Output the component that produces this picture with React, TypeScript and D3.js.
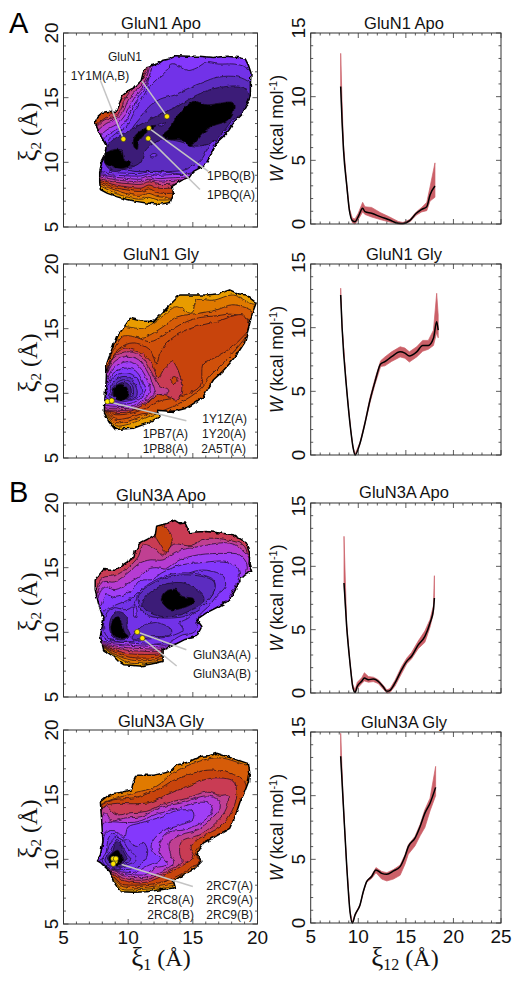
import React from "react";
import * as d3 from "d3";

type Pt = [number, number];
type Ring = [number, Pt[]];

const levelColors = ["#000000","#3c1c78","#5c2cc0","#7232e8","#8438fc","#a03ef6","#b63cd2","#c04092","#c93c54","#c8440c","#d65c08","#e07a00","#e89c00","#d0500a"];
const ringLevels = { black:0, dark:1, deep:2, mid:3, violet:4, bright:5, magenta:6, rose:7, red:8, rust:9, orange:10, amber:11, gold:12, ember:13 };
const { black, dark, deep, mid, violet, bright, magenta, rose, red, rust, orange, amber, gold, ember } = ringLevels;

// ---------- GluN1 Apo ----------
const apo1Outline: Pt[] = [[7.45,13.0],[7.6,13.5],[8.0,13.85],[8.5,13.95],[9.0,13.85],[9.3,14.5],[9.6,15.2],[10.1,15.6],[10.5,15.8],[11.0,16.3],[11.15,16.9],[11.4,17.4],[11.9,17.5],[12.3,17.6],[12.7,17.9],[13.2,18.0],[13.75,18.25],[14.6,18.2],[15.5,18.2],[16.6,18.1],[17.6,18.2],[18.5,18.1],[19.05,18.0],[19.3,17.5],[19.5,16.9],[19.45,16.0],[19.45,15.1],[19.1,14.3],[18.8,13.7],[18.1,13.0],[17.8,12.5],[17.35,12.0],[16.8,11.5],[16.6,11.0],[16.3,10.4],[16.05,9.95],[15.6,9.6],[15.05,9.3],[14.7,8.8],[14.3,8.7],[13.8,8.4],[13.4,8.15],[13.5,7.6],[13.25,6.9],[12.4,6.75],[11.4,6.85],[10.5,7.0],[9.6,7.2],[9.1,7.35],[8.4,7.6],[7.85,7.9],[7.8,8.5],[7.8,9.3],[7.95,10],[8.2,10.5],[8.3,11.3],[7.9,12.0]];
const apo1Rings: Ring[] = [
  [amber,[[7,8.6],[8,8.1],[9,7.6],[10,7.3],[11,7.15],[11.6,7.3],[12.3,7.1],[13.3,7.1],[15,7.2],[21,8],[21,21],[5,21],[5,10]]],
  [orange,[[7,8.7],[8,8.25],[9,7.85],[10,7.55],[11,7.45],[11.6,7.6],[12.3,7.35],[13.3,7.3],[15,7.4],[21,8],[21,21],[5,21],[5,10]]],
  [rust,[[7,8.8],[8,8.4],[9,8.05],[10,7.85],[11,7.75],[11.6,7.95],[12.3,7.65],[13.3,7.6],[15,7.7],[21,8],[21,21],[5,21],[5,10]]],
  [red,[[7,8.9],[8,8.55],[9,8.25],[10,8.1],[11,8.0],[11.6,8.25],[12.3,8.0],[13.3,8.0],[15,8.1],[21,9],[21,21],[11.1,21],[11.3,17.6],[11.0,16.8],[10.6,16.2],[10.0,15.8],[9.5,15.1],[9.1,14.0],[8.5,13.6],[7.9,13.2],[7.3,12.6],[6,10]]],
  [rose,[[7,9],[8,8.7],[9,8.45],[10,8.35],[11,8.3],[11.6,8.5],[12.3,8.3],[13.3,8.3],[15,8.4],[21,9],[21,21],[11.6,21],[11.5,17.6],[11.4,17.0],[11.0,16.3],[10.4,15.7],[9.8,15.0],[9.4,14.0],[9.0,13.5],[8.2,13.3],[7.6,12.8],[7.0,12.3],[6.5,10]]],
  [magenta,[[7,9.1],[8,8.85],[9,8.65],[10,8.55],[11,8.5],[11.6,8.7],[12.3,8.55],[13.3,8.6],[15,8.7],[21,9],[21,21],[11.8,21],[11.7,17.8],[11.5,16.8],[11.1,16.0],[10.5,15.45],[10.0,14.8],[9.6,13.9],[9.0,13.3],[8.3,13.0],[7.7,12.5],[7.2,12.0],[6.8,10]]],
  [bright,[[7,9.2],[8,9.0],[9,8.85],[10,8.75],[11,8.7],[11.6,8.9],[12.3,8.75],[13.3,8.8],[15,8.9],[21,9.5],[21,21],[12,21],[11.9,18],[11.7,16.8],[11.3,16.0],[10.7,15.3],[10.2,14.5],[9.8,13.7],[9.2,13.0],[8.5,12.6],[8.0,12.2],[7.6,11.5],[7,10]]],
  [violet,[[7.2,9.3],[8,9.1],[9,9.0],[10,8.95],[11,8.95],[11.6,9.1],[12.3,9.0],[13.3,9.05],[15,9.1],[21,9.5],[21,21],[12.3,21],[12.2,18.2],[11.8,17.2],[11.4,15.9],[10.9,15.2],[10.4,14.3],[10.0,13.5],[9.4,12.7],[8.7,12.3],[8.1,11.8],[7.7,11],[7.2,10]]],
  [mid,[[7.4,9.4],[8,9.25],[9,9.2],[10,9.15],[11,9.15],[11.6,9.3],[12.3,9.25],[13.3,9.2],[14,9.1],[15,9.2],[16.2,9.7],[21,10],[21,17],[19.6,17.0],[19.0,17.4],[18.2,17.6],[17.0,17.6],[16.0,17.7],[15.3,17.3],[14.6,17.1],[13.9,17.5],[13.3,17.6],[12.8,16.9],[12.2,16.4],[11.6,15.8],[11.1,15.0],[10.6,14.2],[10.2,13.3],[9.7,12.6],[9.0,12.2],[8.4,11.6],[8.2,10.9],[8.0,10.3]]],
  [deep,[[20,15.8],[19.4,16.2],[18.5,16.6],[17.0,16.6],[15.8,16.2],[14.6,15.7],[13.6,15.2],[12.5,14.9],[11.6,14.3],[11,13.5],[10.5,12.9],[10,12.2],[9.3,11.8],[8.7,11.3],[8.5,10.5],[8.5,9.9],[9.5,9.5],[10.5,9.3],[12,9.3],[13.5,9.3],[14.5,9.45],[15.3,9.9],[15.8,10.4],[16.2,11.2],[17,12],[17.8,12.7],[18.6,13.7],[19.4,14.5],[20,15]]],
  [dark,[[8.2,11.0],[8.85,11.75],[10,12.4],[10.9,12.9],[12.45,13.7],[13.75,14.3],[15.3,15.2],[16.85,15.75],[18.9,15.8],[19.4,15.1],[19.3,14.05],[18.1,13.3],[16.85,11.75],[15.3,11.25],[14,11.6],[12.7,11.75],[11.4,11],[10.9,9.95],[9.9,9.55],[8.85,9.3],[8.2,9.95]]],
  [mid,[[11.7,10.5],[12,10.7],[12.3,10.5],[12,10.4]]],
  [deep,[[12.3,12.9],[12.9,13.1],[12.6,12.8]]],
  [black,[[12.7,12.15],[13.25,12.65],[13.75,13.55],[15.05,14.7],[16.05,14.45],[18.1,14.6],[18.1,13.8],[17.6,13.2],[16.55,12.8],[15.8,12.3],[14.8,11.3],[14,11.75],[13.25,11.75],[12.7,11.95]]],
  [black,[[8.3,10.7],[9,11],[9.5,10.9],[9.7,10.2],[10.3,9.95],[9.65,9.55],[8.6,9.7],[8.2,9.95]]],
  [black,[[10.45,11.2],[10.5,12],[11.45,12.7],[12.2,12.85],[11.55,12.4],[10.85,11.75],[10.7,11]]],
];

// ---------- GluN1 Gly ----------
const gly1Outline: Pt[] = [[9,7.2],[10.4,7.3],[11.5,7.7],[12.45,8.2],[12.2,8.7],[13.5,8.6],[14.5,8.85],[15.2,9.3],[15.8,9.75],[16.2,10.4],[16.6,11.05],[17.2,11.6],[17.85,12.3],[18.4,13],[19,13.9],[19.3,15],[19.6,16.2],[19.9,17],[19.5,17.3],[19.15,17.6],[18.5,17.7],[17.85,18],[17,17.7],[16.05,17.6],[15,17.6],[14,17.6],[13.3,16.9],[12.7,16.3],[11.95,15.55],[11,15.6],[10.15,15.8],[9.6,15],[9.1,14.4],[8.7,13.3],[8.35,12.3],[8.3,11],[8.2,9.5],[8.15,8.5],[8.5,7.8]];
const gly1Rings: Ring[] = [
  [amber,[[7,8.6],[8.2,8.4],[9,7.5],[10,7.6],[11,7.95],[12.2,8.4],[14,8.5],[21,9],[21,17.3],[19.7,16.9],[18.15,17.6],[16.6,17.2],[15.3,17.2],[14.9,16.2],[13.75,16.7],[12.45,15.8],[11.2,15.05],[9.9,15.15],[8,15.5],[6,12]]],
  [orange,[[7,8.7],[8.2,8.5],[9,7.75],[10,7.85],[11,8.2],[12.2,8.6],[14,8.7],[15,9.2],[16,9.9],[16.8,11],[18,12.2],[19.2,13.8],[21,14],[21,16],[19.95,15.9],[19.7,16.3],[18.1,16.85],[16.85,16.45],[15.55,16.2],[13.75,15.9],[12.7,15.15],[11.4,14.4],[9.35,14.15],[8.5,14],[6,12]]],
  [ember,[[7,8.8],[8.2,8.6],[9,8.0],[10,8.1],[11,8.4],[12.45,8.6],[14,9.25],[15.55,10.3],[16.3,11.3],[17.6,12.6],[18.9,14.1],[19.7,15.4],[19.9,15.4],[18.2,16.1],[16.85,16],[15.3,15.8],[14,15.3],[12.7,14.45],[11.7,14],[10.4,14.4],[9.6,14.4],[9,13.6],[8.4,12.4],[8,11.6],[7,10]]],
  [rust,[[7.5,9],[8.35,8.6],[9,8.35],[10.4,8.5],[11.7,9],[12.45,9.4],[14,9.75],[15.55,10.55],[15.8,12.2],[16.6,12.7],[17.6,13.25],[18.65,14.15],[19.35,15.1],[18.9,16.05],[16.85,15.55],[14.8,15],[13.25,14.15],[12.45,13.1],[12.2,12.2],[11.7,13.35],[10.4,13.9],[9.35,13.5],[8.7,12.6],[8.35,11.55],[7.6,10.5]]],
  [red,[[7.8,8.9],[9,8.55],[10.15,8.6],[11.45,9.3],[12.45,9.9],[13.85,9.5],[14.15,10.4],[13.85,11.8],[13.4,12.45],[12.85,12],[12.3,11.2],[11.85,12.3],[11.15,13.05],[10.4,13.35],[9.75,13.5],[8.83,12.8],[8.3,11.5],[7.8,10]]],
  [rust,[[13.25,11],[13.55,11.3],[13.85,11.05],[13.55,10.75]]],
  [rose,[[8.35,11.55],[8.85,12.7],[9.75,13.2],[10.9,12.95],[11.8,11.65],[12.35,10.65],[13.1,10.3],[13.1,10.0],[12.2,9.85],[11.45,9.3],[10.4,8.75],[9,8.7],[8,8.8],[7.8,10]]],
  [magenta,[[8.3,11.3],[8.85,12.35],[9.75,12.85],[10.8,12.6],[11.55,11.55],[12,10.4],[12.1,10.05],[11.45,9.5],[10.4,8.9],[9,8.85],[8.1,8.95],[7.8,10]]],
  [bright,[[8.3,10.9],[8.85,11.95],[9.9,12.45],[10.7,12.2],[11.3,11.4],[11.7,10.4],[11.45,9.75],[10.4,9.05],[9,9],[8.15,9.15],[7.8,10]]],
  [violet,[[8.25,10.55],[8.85,11.55],[9.75,11.95],[10.55,11.75],[11.05,11.05],[11.35,10.3],[11.05,9.7],[10.3,9.25],[9,9.2],[8.2,9.35],[7.9,10]]],
  [mid,[[8.3,10.25],[8.85,11.25],[9.7,11.6],[10.4,11.4],[10.85,10.8],[11.05,10.15],[10.7,9.65],[10,9.4],[9,9.35],[8.3,9.6]]],
  [deep,[[8.55,10.0],[9,11],[9.6,11.3],[10.25,11.15],[10.6,10.5],[10.7,10],[10.4,9.6],[9.75,9.5],[9,9.5],[8.5,9.75]]],
  [deep,[[8.75,10.05],[9.1,10.8],[9.7,11.05],[10.2,10.85],[10.4,10.3],[10.35,9.8],[9.85,9.6],[9.1,9.65],[8.75,9.9]]],
  [dark,[[8.8,10.05],[9.15,10.65],[9.7,10.85],[10.1,10.6],[10.25,10.1],[10.05,9.7],[9.5,9.5],[8.95,9.7]]],
  [black,[[8.85,10.05],[9,10.5],[9.4,10.7],[9.85,10.5],[10,10.05],[9.85,9.6],[9.4,9.45],[9,9.6]]],
];

// ---------- GluN3A Apo ----------
const apo3Outline: Pt[] = [[7.45,14.05],[7.8,14.5],[8.1,14.85],[8.6,14.8],[9,14.8],[9.7,15.3],[10.4,15.75],[10.6,16.4],[10.9,16.9],[11.5,17.2],[12.1,17.55],[12.2,18.2],[12.9,18.4],[13.6,18.65],[14.0,18.4],[14.4,18.45],[14.75,17.7],[15.3,17.75],[16.05,17.8],[17,17.7],[18.1,17.55],[18.7,17.2],[19.15,16.9],[19.4,16],[19.35,15.3],[19.55,14.7],[19,14.4],[18.65,14.05],[18.3,13.3],[17.85,12.5],[17,12],[16.05,11.5],[15.3,11],[15.7,10.45],[15.3,9.7],[14.4,9.45],[13.5,9],[12.7,8.65],[12.7,7.75],[11.8,7.55],[10.9,7.4],[9.65,7.5],[9.2,7.8],[8.85,8.15],[8.1,8.65],[7.85,9.7],[8.1,11],[7.7,12.25],[7.45,13.3]];
const apo3Rings: Ring[] = [
  [amber,[[7,9],[8.1,8.8],[9,8.2],[10,7.65],[11,7.6],[12,7.7],[12.8,7.8],[14,8],[21,9],[21,21],[5,21],[5,12]]],
  [orange,[[7,9],[8.1,8.85],[9,8.3],[10,7.9],[11,7.8],[12,7.85],[12.8,8],[14,8.2],[21,9],[21,21],[5,21],[5,12]]],
  [rust,[[7,9],[8.1,8.9],[9,8.45],[10,8.1],[11,8],[12,8.05],[12.8,8.2],[14,8.4],[21,9],[21,21],[5,21],[5,12]]],
  [red,[[7,9],[8.1,8.95],[9,8.6],[10,8.35],[11,8.3],[12,8.3],[12.8,8.4],[14,8.6],[21,9],[21,21],[13,21],[12.7,18.5],[13.1,17.9],[13.4,17.1],[12.95,16.2],[12.4,16.9],[12.1,17.5],[11.9,19],[5,21],[5,12]]],
  [rose,[[7.2,9.1],[8.1,9],[9,8.8],[10,8.6],[11,8.55],[12,8.5],[12.8,8.55],[14,8.7],[15,9],[21,9.5],[21,14],[19.6,14.5],[19.3,15.6],[19,16.65],[18.1,17.05],[16.05,17.25],[14.8,16.7],[13.5,16.8],[12.7,15.9],[12.2,16.4],[11.2,16.75],[10.75,15.8],[10.1,15.1],[9,14.4],[8,14.2],[7.5,13.2],[7,11]]],
  [magenta,[[7.4,9.2],[8.1,9.1],[9,8.95],[10,8.8],[11,8.75],[12,8.7],[12.8,8.7],[14,8.85],[15,9.2],[21,9.5],[21,14],[19.55,14.6],[19.4,15.6],[19,16.25],[17.85,16.9],[15.55,16.65],[13.75,16.25],[12.7,15.6],[11.7,15.6],[10.9,15.35],[10.1,14.7],[8.95,13.9],[8.1,13.9],[7.6,13],[7.2,11]]],
  [bright,[[7.5,9.3],[8.1,9.2],[9,9.1],[10,9],[11,8.95],[12,8.9],[12.8,8.85],[14,9],[15,9.3],[16,10],[16,11.3],[18,12.4],[18.3,13.4],[19,14.3],[19.2,15.2],[18.6,16],[17.5,16.1],[15.5,16],[14,15.6],[12.9,14.9],[12.2,15],[11.6,14.9],[11,14.4],[10,13.8],[9,13.3],[8.2,13.5],[7.7,12.8],[7.4,11]]],
  [violet,[[7.6,9.4],[8.1,9.3],[9,9.25],[10,9.2],[11,9.15],[12,9.1],[12.8,9],[14,9.2],[15,9.5],[15.7,10.3],[15.5,11],[16.3,11.5],[17.6,12.5],[18.3,13.6],[18.6,14.6],[18.2,15.2],[17.4,15.5],[15.8,15.4],[14.1,15.2],[12.6,14.6],[11.9,14.1],[11,14],[10.2,13.2],[9,12.7],[8.3,12.9],[8,12.4],[7.6,11]]],
  [mid,[[8.1,11.6],[9,12.1],[10.2,12.6],[10.9,13.2],[11.8,13.5],[12.9,13.6],[14.3,14.4],[15.5,14.8],[16.6,14.7],[17.4,14.3],[17.5,13.5],[16.9,12.9],[16.3,12.1],[15.5,11.3],[15.3,10.8],[15.4,10.4],[15,9.95],[14.2,9.8],[13,9.2],[11,9.1],[9.5,9.3],[8.5,9.4],[7.95,9.8],[8,10.8]]],
  [mid,[[10.8,13.05],[12.45,14.2],[14.4,14.6],[16.6,14.05],[16.6,13.05],[15.55,11.9],[14.65,11.1],[14,10.7],[14.25,10.2],[13.25,9.7],[11.2,9.45],[9.4,9.25],[8.35,9.7],[8.1,10.45],[8.35,11.5],[8.85,11.9],[9.9,11.75],[10.55,12.25]]],
  [violet,[[10.4,11.6],[10.5,12.1],[10.65,11.8],[10.65,11.2],[10.45,11.2]]],
  [deep,[[10.8,12.8],[12.2,13.95],[14.4,14.45],[16.6,13.95],[16.6,13.05],[15.05,11.5],[13,11.1],[11.2,11.5]]],
  [dark,[[11.05,12.25],[12.45,13.55],[14.4,13.8],[15.8,12.8],[15.8,12.3],[14.75,11.65],[13.25,11.2],[11.7,11.5]]],
  [dark,[[8.75,11.25],[9.25,11.6],[9.9,11.25],[9.9,10.45],[10.15,9.7],[9.4,9.4],[8.75,9.8],[8.55,10.45]]],
  [deep,[[11.05,10.45],[12.2,10.75],[13.35,10.2],[13.25,9.8],[11.7,9.65],[10.3,9.5]]],
  [black,[[12.55,12.5],[12.85,13.15],[13.75,13.3],[14.15,12.8],[15.05,12.6],[15.05,12.3],[14.3,11.9],[13.25,11.75],[12.75,12.15]]],
  [black,[[8.65,10.35],[8.85,11],[9.25,11.2],[9.5,10.7],[9.75,9.95],[10,9.7],[9.5,9.5],[9,9.7]]],
];

// ---------- GluN3A Gly ----------
const gly3Outline: Pt[] = [[7.6,9.9],[7.85,10.35],[8.05,11.4],[7.95,13],[7.85,14.45],[8.4,14.9],[8.85,15.1],[9.6,15.2],[10.25,15.35],[10.4,16],[10.65,16.5],[12,16.5],[13.25,16.8],[13.75,17.3],[14.6,17.5],[15.55,17.95],[16.2,18],[16.85,18.2],[18.1,17.8],[19.3,17.4],[19.4,16.7],[19.3,16],[19,15.2],[18.65,14.45],[18.3,13.4],[17.85,12.4],[16.8,11.8],[15.8,11.25],[15.3,10.35],[15.7,9.85],[15.05,9.2],[14.2,8.8],[13.5,8.3],[13.65,7.8],[12.5,7.65],[11.45,7.5],[10.4,7.45],[9.4,7.5],[8.85,8.3],[8.6,9.05],[7.85,9.75]];
const gly3Rings: Ring[] = [
  [amber,[[7.5,9],[8.7,8.6],[9.5,7.7],[10.5,7.65],[11.5,7.7],[12.5,7.8],[13.6,8],[15,8.4],[21,9],[21,21],[5,21],[5,12]]],
  [orange,[[7.5,9],[8.7,8.7],[9.5,7.95],[10.5,7.8],[11.5,7.85],[12.5,8],[13.6,8.2],[15,8.6],[21,9],[21,17],[19.3,17.25],[17.1,17.85],[15.55,17.6],[13.5,16.7],[12.2,15.65],[10.4,15.1],[7.85,14.2],[6,12]]],
  [rust,[[7.5,9],[8.8,8.7],[9.5,8.1],[10.5,8],[11.5,8.05],[12.5,8.2],[13.5,8.55],[14.8,9.3],[15.55,9.85],[15.2,10.35],[15.55,11],[16.6,11.75],[18.15,12.65],[18.65,14.2],[19.15,15.35],[18.9,16.15],[17.85,16.65],[16.6,16.9],[15.55,16.8],[13.5,16.1],[12.2,15.35],[10.4,14.75],[8.85,14.6],[7.85,14.1],[6.5,12]]],
  [red,[[7.5,9.2],[8.9,8.8],[9.5,8.4],[10.5,8.2],[11.5,8.25],[13,8.9],[14.5,9.7],[15.05,10.2],[14.8,11],[15.8,11.8],[17.1,12.5],[17.9,13.5],[18.4,15],[18.1,16.05],[16.85,16.3],[16.05,16.2],[14.5,15.6],[13,15],[11.7,14.4],[10.4,14.3],[8.8,14.3],[8,14],[7,12]]],
  [rose,[[7.5,9.4],[9,8.9],[9.5,8.6],[10.5,8.4],[11.5,8.45],[13.2,9.2],[14.25,9.85],[14,10.35],[14.15,11.4],[15.55,11.9],[16.85,12.9],[17.6,13.95],[17.7,14.95],[17.1,14.95],[16.05,15.2],[14.5,14.7],[12.95,14.35],[11.4,13.7],[10.1,13.6],[9.05,13.45],[8.2,14.1],[7.5,12]]],
  [magenta,[[7.5,9.6],[9.05,9.05],[9.5,8.8],[10.5,8.6],[11.5,8.65],[13,9.3],[13.6,9.8],[13.35,10.2],[13.2,11.3],[14.1,11.9],[15.4,12.3],[16.4,13.1],[17.1,14],[17,14.6],[16,14.9],[14.3,14.4],[12.5,14],[11,13.3],[9.8,13.2],[8.7,13],[8.2,13.6],[7.7,12]]],
  [bright,[[7.5,9.8],[9.1,9.1],[9.5,8.95],[10.5,8.8],[11.5,8.85],[12,9.3],[13,9.6],[12.6,10.2],[12.4,11],[12.9,12],[14.4,12.3],[15.6,12.8],[16.5,13.7],[16.3,14.3],[15.4,14.4],[14,14],[12.2,13.5],[10.7,12.9],[9.7,12.85],[8.9,12.9],[8.1,12.8],[7.8,11]]],
  [violet,[[7.6,9.9],[9.15,9.15],[9.5,9.05],[10.5,9],[11.5,9.5],[12.5,10],[11.8,10.7],[11.9,11.4],[12.7,12.2],[13.9,12.6],[15,13.1],[15,13.7],[13.9,13.8],[12.3,13.2],[10.9,12.8],[10,12.5],[9.7,11.7],[9,12.2],[8.3,12.1],[8,11]]],
  [mid,[[8.2,10.2],[8.5,11.7],[8.9,12],[9.5,11.5],[10,11.5],[10.6,11],[11.2,11.3],[11.5,10.4],[10.7,9.4],[9.5,9.2],[8.4,9.4],[7.8,9.9]]],
  [mid,[[8,9.9],[8.4,10.7],[8.7,11.4],[9.1,11.7],[9.6,11.4],[10,10.8],[10.6,10.2],[10.6,9.9],[10,9.6],[9.3,9.35],[8.6,9.3]]],
  [deep,[[8.2,9.95],[8.6,10.6],[8.9,11.2],[9.2,11.5],[9.5,11.1],[9.9,10.4],[10.2,10],[9.9,9.7],[9.3,9.45],[8.7,9.4]]],
  [dark,[[8.4,10.1],[8.8,10.6],[9,11.2],[9.3,11.3],[9.6,10.7],[9.85,10.1],[9.6,9.7],[9.1,9.55],[8.75,9.65]]],
  [black,[[8.5,10.05],[8.75,10.45],[9.2,10.7],[9.45,10.3],[9.65,10],[9.5,9.75],[9.1,9.55],[8.8,9.65]]],
];

// ---------- markers / callouts (in Å) ----------
const apo1Markers: Pt[] = [[9.63,11.8],[13,13.55],[11.6,12.65],[11.55,11.85]];
const apo1Leaders: [Pt,Pt][] = [[[7.85,16.35],[9.63,11.8]],[[11.05,16.3],[13,13.55]],[[11.6,12.65],[16.2,9.3]],[[11.55,11.85],[15.55,7.9]]];
const gly1Markers: Pt[] = [[8.4,9.37],[8.73,9.43]];
const gly1Leaders: [Pt,Pt][] = [[[8.85,9.25],[14.5,7.88]]];
const apo3Markers: Pt[] = [[10.7,10.03],[11.1,9.55]];
const apo3Leaders: [Pt,Pt][] = [[[10.7,10.03],[14.5,8.65]],[[11.1,9.55],[13.75,7.4]]];
const gly3Markers: Pt[] = [[8.85,10.05],[9,9.85],[8.85,9.65],[9.05,10.05]];
const gly3Leaders: [Pt,Pt][] = [[[9.5,9.6],[15,7.9]]];

type Lab = [string, number, number, "start"|"end"|"middle"];
const apo1Labels: Lab[] = [["GluN1",125,61,"middle"],["1Y1M(A,B)",100,80,"middle"],["1PBQ(B)",255,180,"end"],["1PBQ(A)",255,199,"end"]];
const gly1Labels: Lab[] = [["1Y1Z(A)",247,423,"end"],["1PB7(A)",188,438,"end"],["1Y20(A)",246,438,"end"],["1PB8(A)",188,453,"end"],["2A5T(A)",246,453,"end"]];
const apo3Labels: Lab[] = [["GluN3A(A)",251,659,"end"],["GluN3A(B)",251,678,"end"]];
const gly3Labels: Lab[] = [["2RC7(A)",253,890,"end"],["2RC8(A)",194,904,"end"],["2RC9(A)",253,904,"end"],["2RC8(B)",194,919,"end"],["2RC9(B)",253,919,"end"]];

// ---------- PMF curves ----------
const apo1X = [8.15,8.3,8.45,8.8,9.06,9.38,9.66,10,10.46,10.7,11.4,12.3,13.3,14.2,14.7,15.4,16.1,16.66,17.2,17.54,18.06];
const apo1W = [10.8,8.0,5.8,2.95,1.1,0.26,0.18,0.58,1.23,0.97,0.84,0.58,0.31,0.05,0.03,0.26,0.84,1.15,1.36,2.28,2.99];
const apo1Hi = [13.4,9.5,6.2,3.1,1.25,0.45,0.4,0.85,1.7,1.35,1.3,0.9,0.55,0.2,0.12,0.35,0.95,1.3,1.7,2.9,4.8];
const apo1Lo = [10.8,7.9,5.7,2.8,1.0,0.1,0,0.35,0.95,0.75,0.55,0.35,0.15,0,0,0.15,0.7,0.95,1.05,1.8,2.1];

const gly1X = [8.15,8.3,8.8,9.2,9.45,9.66,10.18,10.7,11.23,11.76,12.35,12.8,13.5,14.4,14.9,15.37,16.14,16.77,17.36,17.9,18.24,18.4];
const gly1W = [12.57,10,5,2,0.6,0,0.92,2.49,4.3,5.76,7.15,7.33,7.72,8.1,8,7.77,8.1,8.6,8.6,9.16,10.47,9.8];
const gly1Hi = [13.1,10.1,5.05,2.05,0.65,0.05,1,2.6,4.5,6,7.4,7.7,8.1,8.5,8.4,8.1,8.5,9,9,9.8,12.7,11];
const gly1Lo = [12.5,9.95,4.95,1.95,0.55,0,0.85,2.4,4.1,5.55,6.95,7,7.35,7.7,7.6,7.3,7.7,8.15,8.3,8.6,9.6,9.2];

const apo3X = [8.5,8.78,9.13,9.41,9.66,9.9,10.36,10.64,11.06,11.58,12.1,12.64,13,13.34,13.86,14.56,15.09,15.6,16.3,17,17.54,17.9,18];
const apo3W = [8.68,5.26,2.37,0.53,0.05,0.53,0.92,1.18,1.05,1.1,0.92,0.47,0.13,0.21,0.79,1.84,2.5,2.9,3.8,4.47,5.53,6.58,7.5];
const apo3Hi = [12.37,5.5,2.45,0.7,0.25,0.85,1.2,1.6,1.3,1.25,1.05,0.6,0.25,0.35,1,2.1,2.75,3.2,4.1,4.9,5.8,6.9,9.26];
const apo3Lo = [8.6,5.1,2.3,0.4,0,0.35,0.75,0.95,0.85,0.9,0.75,0.3,0,0.05,0.55,1.55,2.3,2.7,3.5,4,5.2,6.3,7.4];

const gly3X = [8.15,8.43,8.78,9.13,9.38,9.66,10.18,10.53,10.88,11.4,11.86,12.46,13,13.7,14.4,14.9,15.26,15.96,16.5,17,17.54,18.13];
const gly3W = [13.09,9.28,4.56,0.9,0,0.63,1.42,2.47,3.25,3.65,4.17,3.9,3.83,4.09,4.43,5.22,6,6.66,7.58,8.63,9.41,10.65];
const gly3Hi = [14.9,9.4,4.6,0.95,0.05,0.7,1.45,2.5,3.3,3.75,4.35,4.05,3.95,4.2,4.55,5.35,6.15,6.8,7.75,8.9,9.8,12.3];
const gly3Lo = [13,9.2,4.5,0.85,0,0.55,1.35,2.4,3.2,3.5,3.95,3.45,3.3,3.45,3.75,4.6,5.4,6.05,6.85,7.5,8.8,10];

const xiTicks = [5,10,15,20];
const wXTicks = [5,10,15,20,25];
const wYTicks = [0,5,10,15];
const FONT = "'Liberation Sans', Arial, sans-serif";
const SERIF = "'Liberation Serif', 'DejaVu Serif', serif";
const AXIS = "#333";

function Frame({x, y, xMajor, yMajor, xMinor, yMinor, showX, topShift = 0}: any) {
  const [x0, x1] = x.range();
  const [y0, y1] = y.range();
  const t: React.ReactNode[] = [];
  xMinor.forEach((v: number) => {
    const len = xMajor.includes(v) ? 5 : 2.5;
    t.push(<line key={"b"+v} x1={x(v)} x2={x(v)} y1={y0} y2={y0-len} />);
    t.push(<line key={"t"+v} x1={x(v)} x2={x(v)} y1={y1} y2={y1+len} />);
  });
  yMinor.forEach((v: number) => {
    const len = yMajor.includes(v) ? 5 : 2.5;
    t.push(<line key={"l"+v} x1={x0} x2={x0+len} y1={y(v)} y2={y(v)} />);
    t.push(<line key={"r"+v} x1={x1} x2={x1-len} y1={y(v)} y2={y(v)} />);
  });
  const yMax = yMajor[yMajor.length-1];
  return (
    <g>
      <g stroke={AXIS} strokeWidth={0.8}>{t}</g>
      <rect x={x0} y={y1} width={x1-x0} height={y0-y1} fill="none" stroke={AXIS} strokeWidth={1} />
      {yMajor.map((v: number) => (
        <text key={v} transform={`translate(${x0-5.5},${y(v)+(v===yMax?topShift:0)}) rotate(-90)`} textAnchor="middle" fontFamily={FONT} fontSize={19} fill="#111">{v}</text>
      ))}
      {showX && xMajor.map((v: number) => (
        <text key={v} x={x(v)} y={y0+19.5} textAnchor="middle" fontFamily={FONT} fontSize={19} fill="#111">{v}</text>
      ))}
    </g>
  );
}

function Landscape({id, top, title, titleY, outline, rings, markers, leaders, labels, showX}: any) {
  const x = d3.scaleLinear().domain([5,20]).range([63.5,257.5]);
  const y = d3.scaleLinear().domain([5,20]).range([top+194,top]);
  const smooth = d3.line<Pt>().x(d=>x(d[0])).y(d=>y(d[1])).curve(d3.curveCatmullRomClosed.alpha(0.5));
  const raw = d3.line<Pt>().x(d=>x(d[0])).y(d=>y(d[1])).curve(d3.curveLinearClosed);
  return (
    <g>
      <text x={161} y={titleY} textAnchor="middle" fontFamily={FONT} fontSize={16.5} fill="#111">{title}</text>
      <clipPath id={id}><path d={raw(outline) as string} /></clipPath>
      <g filter="url(#rough)">
        <path d={raw(outline) as string} fill={levelColors[gold]} />
        <g clipPath={`url(#${id})`}>
          {rings.map((r: Ring, i: number) => (
            <path key={i} d={smooth(r[1]) as string} fill={levelColors[r[0]]} stroke="#140a1c" strokeWidth={0.7} />
          ))}
        </g>
        <path d={raw(outline) as string} fill="none" stroke="#000" strokeWidth={1.5} strokeLinejoin="round" />
      </g>
      <Frame x={x} y={y} xMajor={xiTicks} yMajor={xiTicks} xMinor={d3.range(5,21)} yMinor={d3.range(5,21)} showX={showX} />
      {leaders.map((l: [Pt,Pt], i: number) => (
        <line key={i} x1={x(l[0][0])} y1={y(l[0][1])} x2={x(l[1][0])} y2={y(l[1][1])} stroke="#c4c4c4" strokeWidth={1.5} />
      ))}
      {markers.map((m: Pt, i: number) => (
        <circle key={i} cx={x(m[0])} cy={y(m[1])} r={2.6} fill="#ffe600" stroke="#222" strokeWidth={0.6} />
      ))}
      {labels.map((l: Lab, i: number) => (
        <text key={i} x={l[1]} y={l[2]} textAnchor={l[3]} fontFamily={FONT} fontSize={12} fill="#1a1a1a">{l[0]}</text>
      ))}
      <text transform={`translate(37,${top+99}) rotate(-90)`} textAnchor="middle" fontFamily={SERIF} fontSize={24} fill="#111">
        <tspan fontSize={27}>ξ</tspan><tspan fontSize={15} dy={4}>2</tspan><tspan dy={-4}> (Å)</tspan>
      </text>
    </g>
  );
}

function Pmf({top, bottom, title, titleY, xs, w, hi, lo, showX, topShift}: any) {
  const x = d3.scaleLinear().domain([5,25]).range([310.7,501]);
  const y = d3.scaleLinear().domain([0,15]).range([bottom,top]);
  const idx = d3.range(xs.length);
  const band = d3.area<number>().x(i=>x(xs[i])).y0(i=>y(lo[i])).y1(i=>y(hi[i]));
  const line = d3.line<number>().x(i=>x(xs[i])).y(i=>y(w[i])).curve(d3.curveMonotoneX);
  return (
    <g>
      <text x={404} y={titleY} textAnchor="middle" fontFamily={FONT} fontSize={16.5} fill="#111">{title}</text>
      <path d={band(idx) as string} fill="#cb6068" stroke="#cb6068" strokeWidth={0.7} />
      <path d={line(idx) as string} fill="none" stroke="#000" strokeWidth={1.5} />
      <Frame x={x} y={y} xMajor={wXTicks} yMajor={wYTicks} xMinor={d3.range(5,26)} yMinor={d3.range(0,16)} showX={showX} topShift={topShift} />
      <text transform={`translate(283,${(top+bottom)/2}) rotate(-90)`} textAnchor="middle" fontFamily={FONT} fontSize={17.5} fill="#111">
        <tspan fontStyle="italic">W</tspan> (kcal mol<tspan fontSize={11} dy={-6}>-1</tspan><tspan dy={6}>)</tspan>
      </text>
    </g>
  );
}

export default function App() {
  return (
    <svg width={524} height={982} viewBox="0 0 524 982" style={{position:"absolute",left:0,top:0,background:"#fff"}}>
      <defs>
        <filter id="rough" x="40" y="0" width="240" height="982" filterUnits="userSpaceOnUse" colorInterpolationFilters="sRGB">
          <feTurbulence type="fractalNoise" baseFrequency="0.2" numOctaves="2" seed="5" result="n" />
          <feDisplacementMap in="SourceGraphic" in2="n" scale="3.5" xChannelSelector="R" yChannelSelector="G" result="d" />
          <feGaussianBlur in="d" stdDeviation="0.25" />
        </filter>
      </defs>
      <text x={9} y={33} fontFamily={FONT} fontSize={29} fill="#000">A</text>
      <text x={9} y={502} fontFamily={FONT} fontSize={29} fill="#000">B</text>

      <Landscape id="p1" top={33} title="GluN1 Apo" titleY={29} outline={apo1Outline} rings={apo1Rings} markers={apo1Markers} leaders={apo1Leaders} labels={apo1Labels} />
      <Landscape id="p2" top={264} title="GluN1 Gly" titleY={260} outline={gly1Outline} rings={gly1Rings} markers={gly1Markers} leaders={gly1Leaders} labels={gly1Labels} />
      <Landscape id="p3" top={503} title="GluN3A Apo" titleY={501} outline={apo3Outline} rings={apo3Rings} markers={apo3Markers} leaders={apo3Leaders} labels={apo3Labels} />
      <Landscape id="p4" top={730} title="GluN3A Gly" titleY={727} outline={gly3Outline} rings={gly3Rings} markers={gly3Markers} leaders={gly3Leaders} labels={gly3Labels} showX />

      <Pmf top={33} bottom={224} title="GluN1 Apo" titleY={29} xs={apo1X} w={apo1W} hi={apo1Hi} lo={apo1Lo} topShift={-5} />
      <Pmf top={264} bottom={455} title="GluN1 Gly" titleY={260} xs={gly1X} w={gly1W} hi={gly1Hi} lo={gly1Lo} topShift={-1.5} />
      <Pmf top={503} bottom={693} title="GluN3A Apo" titleY={498} xs={apo3X} w={apo3W} hi={apo3Hi} lo={apo3Lo} topShift={3} />
      <Pmf top={732} bottom={923} title="GluN3A Gly" titleY={728} xs={gly3X} w={gly3W} hi={gly3Hi} lo={gly3Lo} showX topShift={-5} />

      <text x={161} y={966} textAnchor="middle" fontFamily={SERIF} fontSize={24} fill="#111"><tspan fontSize={27}>ξ</tspan><tspan fontSize={16} dy={4}>1</tspan><tspan dy={-4}> (Å)</tspan></text>
      <text x={405} y={966} textAnchor="middle" fontFamily={SERIF} fontSize={24} fill="#111"><tspan fontSize={27}>ξ</tspan><tspan fontSize={16} dy={4}>12</tspan><tspan dy={-4}> (Å)</tspan></text>
    </svg>
  );
}
